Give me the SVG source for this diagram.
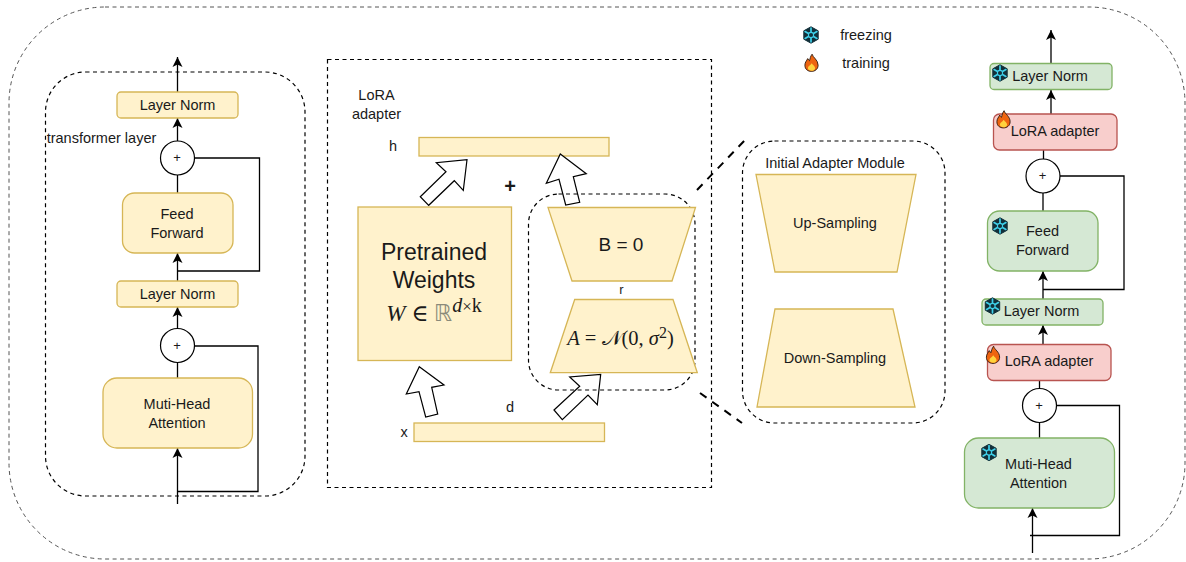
<svg xmlns="http://www.w3.org/2000/svg" width="1186" height="562" viewBox="0 0 1186 562">
<style>
text{font-family:"Liberation Sans",Arial,sans-serif;font-size:14.5px;fill:#1a1a1a;text-anchor:middle}
.y{fill:#fff2cc;stroke:#d6b656;stroke-width:1.3}
.g{fill:#d5e8d4;stroke:#82b366;stroke-width:1.3}
.r{fill:#f8cecc;stroke:#b85450;stroke-width:1.3}
.c{fill:#fff;stroke:#000;stroke-width:1.2}
.l{fill:none;stroke:#000;stroke-width:1.3}
.a{fill:none;stroke:#000;stroke-width:1.3;marker-end:url(#h)}
.d{fill:none;stroke:#000;stroke-width:1.2;stroke-dasharray:4 3.5}
.big{fill:#fff;stroke:#000;stroke-width:1.2}
.p{font-size:13px}
.m{font-family:"Liberation Serif","DejaVu Serif",serif;font-size:23px}
</style>
<defs>
<marker id="h" markerUnits="userSpaceOnUse" markerWidth="12" markerHeight="12" refX="10" refY="5.5" orient="auto"><path d="M0,0.5 L10,5.5 L0,10.5 L2.5,5.5Z" fill="#000"/></marker>
<g id="snow"><polygon points="0,-8.2 7.2,-4.2 7.2,4.2 0,8.2 -7.2,4.2 -7.2,-4.2" fill="#12303a" stroke="#12303a" stroke-width="1" stroke-linejoin="round"/><g stroke="#3fd0ea" stroke-width="1.7" stroke-linecap="round"><path d="M0-6.8V6.8M-5.9-3.4L5.9,3.4M-5.9,3.4L5.9-3.4"/></g><circle r="2.6" fill="#12303a" stroke="#3fd0ea" stroke-width="1.1"/></g>
<g id="fire"><path d="M0.6-8.8C1.4-5.4 6.6-3.2 6.6,2.2C6.6,6.2 3.4,8.4 0,8.4C-3.8,8.4-6.6,6.2-6.6,2.2C-6.6-0.8-4.8-2.2-3.8-4.4C-3-3.2-2.6-2.6-2-2.2C-1.4-4.4-1.1-6.8 0.6-8.8Z" fill="#ee6410" stroke="#2a1a10" stroke-width="0.9"/><path d="M0.2,0.3C1.2,2 3.6,3 3.6,5.2C3.6,6.9 1.8,7.8 0,7.8C-2,7.8-3.6,6.8-3.6,5C-3.6,3.4-1.2,2.4 0.2,0.3Z" fill="#ffd23c"/></g>
</defs>

<rect id="outer-frame" x="9" y="7" width="1176" height="552" rx="96" ry="96" fill="none" stroke="#555" stroke-width="1" stroke-dasharray="4 3.5"/>

<g id="transformer-frame"><rect class="d" x="45.500" y="72" width="259.500" height="424" rx="40" ry="40"/><text x="101.500" y="143">transformer layer</text></g>
<g id="lora-frame"><rect class="d" x="327.500" y="59.500" width="384" height="428"/><text x="376.500" y="100">LoRA</text><text x="376.500" y="119">adapter</text></g>
<g id="init-frame"><rect class="d" x="742.500" y="141" width="202.500" height="282" rx="32" ry="32"/><text x="835" y="168">Initial Adapter Module</text></g>

<g id="connectors">
<path class="a" d="M177.500,92V57"/>
<path class="a" d="M177.500,141V118"/>
<path class="l" d="M177.500,175V193"/>
<path class="l" d="M194.500,158H259.500V271H177.500"/>
<path class="a" d="M177.500,281V253"/>
<path class="a" d="M177.500,328V307"/>
<path class="l" d="M177.500,363V378"/>
<path class="a" d="M177.500,504V448"/>
<path class="l" d="M194.500,346H258V491.500H177.500"/>
<path class="a" d="M1051,63V30"/>
<path class="a" d="M1051,114V90"/>
<path class="l" d="M1043.500,150V159"/>
<path class="l" d="M1043,193V211"/>
<path class="l" d="M1060,176H1124V289.500H1043"/>
<path class="a" d="M1043,299V271"/>
<path class="a" d="M1043,344V325"/>
<path class="l" d="M1039.500,380V389"/>
<path class="l" d="M1039.500,423V438"/>
<path class="l" d="M1057,405.500H1119.500V535.500H1030"/>
<path class="a" d="M1032.500,553V508"/>
<path d="M697,190L745,140M700,393L742,423" fill="none" stroke="#000" stroke-width="2" stroke-dasharray="8 7"/>
</g>

<g id="tf-layernorm-top"><rect class="y" x="117" y="92" width="121" height="26" rx="4"/><text x="177.500" y="110">Layer Norm</text></g>
<g id="tf-plus-top"><circle class="c" cx="177.500" cy="158" r="17"/><text class="p" x="177" y="162">+</text></g>
<g id="tf-feedforward"><rect class="y" x="122.500" y="193" width="110.500" height="60" rx="12"/><text x="177" y="219">Feed</text><text x="177" y="238">Forward</text></g>
<g id="tf-layernorm-bottom"><rect class="y" x="117" y="281" width="121" height="26" rx="4"/><text x="177.500" y="299">Layer Norm</text></g>
<g id="tf-plus-bottom"><circle class="c" cx="177.500" cy="345.500" r="17"/><text class="p" x="177" y="349.500">+</text></g>
<g id="tf-attention"><rect class="y" x="103" y="378" width="149.500" height="70" rx="14"/><text x="177" y="409">Muti-Head</text><text x="177" y="428">Attention</text></g>

<g id="bar-h"><rect class="y" x="419" y="137.500" width="190" height="18.500"/><text x="393" y="151">h</text></g>
<g id="bar-x"><rect class="y" x="414" y="423" width="190.500" height="18.500"/><text x="404" y="437">x</text><text x="510" y="412">d</text></g>
<g id="arrow-w-h"><polygon class="big" points="420.300,196.700 446,171.700 436.300,162.700 467,159.700 463.300,190.300 454.300,180.700 428.700,205.300"/></g>
<g id="arrow-b-h"><polygon class="big" points="560.300,154 586.300,173.700 573.300,176.700 579.700,202.300 565.700,205 559,179.300 546.300,183.300"/></g>
<g id="arrow-x-w"><polygon class="big" points="419.300,366.700 444,385 431.700,387.300 437.700,414 425.700,417 419,391.700 406.300,394"/></g>
<g id="arrow-x-a"><polygon class="big" points="554,410 579.700,386.300 569.700,377 600.700,374.300 597.300,404.700 588,395 562.300,419.700"/></g>
<g id="plus-sign"><text x="510" y="193" style="font-size:20px;font-weight:bold">+</text></g>
<g id="pretrained"><rect class="y" x="358" y="207" width="153.500" height="153.500"/><text x="434" y="260" style="font-size:23px">Pretrained</text><text x="434" y="288" style="font-size:23px">Weights</text><text class="m" x="434" y="321"><tspan font-style="italic">W</tspan> ∈ <tspan fill="#8a8a7a" font-family="'DejaVu Sans',sans-serif">ℝ</tspan><tspan dy="-9" font-style="italic" style="font-size:20px">d</tspan><tspan style="font-size:17px">×</tspan><tspan style="font-size:20px">k</tspan></text></g>
<rect id="adapter-frame" class="d" x="528.500" y="194" width="166.500" height="196" rx="30" ry="30"/>
<g id="matrix-b"><polygon class="y" points="548,207.500 695.500,207.500 672,281 572,281"/><text x="621" y="251" style="font-size:19px">B = 0</text></g>
<text id="rank-r" x="621.500" y="294" style="font-size:13px">r</text>
<g id="matrix-a"><polygon class="y" points="574.700,299.500 673,299.500 697.300,372.700 550.300,372.700"/><text class="m" x="620.500" y="345" style="font-size:20.500px"><tspan font-style="italic">A</tspan> = 𝒩(0, <tspan font-style="italic">σ</tspan><tspan dy="-7" style="font-size:16px">2</tspan><tspan dy="7">)</tspan></text></g>
<g id="up-sampling"><polygon class="y" points="756,174.500 916,174.500 897,272 775,272"/><text x="835" y="228">Up-Sampling</text></g>
<g id="down-sampling"><polygon class="y" points="775,309 893,309 915,407 757,407"/><text x="835" y="363">Down-Sampling</text></g>

<g id="legend-freezing"><use href="#snow" x="811" y="35"/><text x="866" y="40">freezing</text></g>
<g id="legend-training"><use href="#fire" x="811.500" y="63"/><text x="866" y="68">training</text></g>

<g id="ad-layernorm-top"><rect class="g" x="990" y="63.500" width="122" height="26" rx="4"/><use href="#snow" x="1000" y="73"/><text x="1050" y="81">Layer Norm</text></g>
<g id="ad-lora-top"><rect class="r" x="993.500" y="114" width="123.500" height="36" rx="6"/><use href="#fire" x="1003.500" y="119.500"/><text x="1055" y="136">LoRA adapter</text></g>
<g id="ad-plus-top"><circle class="c" cx="1043" cy="176" r="17"/><text class="p" x="1042.500" y="180">+</text></g>
<g id="ad-feedforward"><rect class="g" x="987.500" y="211" width="110.500" height="60" rx="12"/><use href="#snow" x="1000" y="226"/><text x="1042.500" y="236">Feed</text><text x="1042.500" y="255">Forward</text></g>
<g id="ad-layernorm-bottom"><rect class="g" x="982" y="299" width="121" height="26" rx="4"/><use href="#snow" x="992.500" y="306"/><text x="1041.500" y="316">Layer Norm</text></g>
<g id="ad-lora-bottom"><rect class="r" x="987.500" y="344.500" width="123.500" height="36" rx="6"/><use href="#fire" x="993" y="355"/><text x="1049" y="366">LoRA adapter</text></g>
<g id="ad-plus-bottom"><circle class="c" cx="1039.500" cy="405.500" r="17"/><text class="p" x="1039" y="409.500">+</text></g>
<g id="ad-attention"><rect class="g" x="964.500" y="438" width="150" height="70" rx="14"/><use href="#snow" x="989" y="452.500"/><text x="1038.500" y="469">Muti-Head</text><text x="1038.500" y="488">Attention</text></g>
</svg>
